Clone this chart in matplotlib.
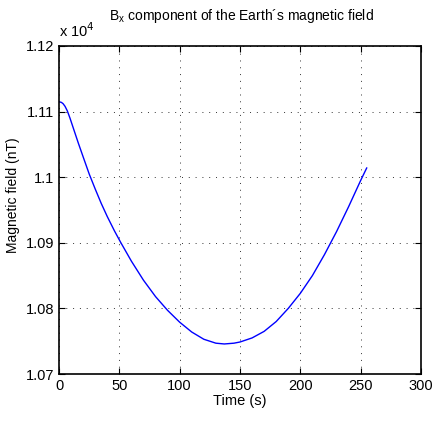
import matplotlib
matplotlib.use("Agg")
import matplotlib.pyplot as plt
from matplotlib.ticker import FuncFormatter

plt.rcParams['font.family'] = ['Liberation Sans', 'DejaVu Sans']

# Time (s) and Bx (nT)
time_s = [0, 2, 3.4, 5, 6.9, 9.1, 12, 16, 20, 25, 30, 35, 40, 46, 51, 60, 70, 80, 90,
          100, 110, 120, 130, 137, 145, 150, 160, 170, 180, 190, 200, 210, 220, 230, 240,
          250, 255]
bx_nT = [11115.0, 11114.0, 11112.0, 11108.0, 11101.0, 11090.0, 11074.0, 11052.0, 11031.0,
         11005.0, 10982.0, 10960.0, 10940.0, 10918.0, 10901.0, 10872.0, 10843.0, 10818.0,
         10797.0, 10779.0, 10764.0, 10753.0, 10747.0, 10745.8, 10747.0, 10748.8, 10755.0,
         10765.0, 10780.0, 10800.0, 10823.0, 10850.0, 10882.0, 10917.0, 10955.0, 10995.0,
         11014.0]

x_ticks = [0, 50, 100, 150, 200, 250, 300]
y_ticks = [10700, 10800, 10900, 11000, 11100, 11200]

fig = plt.figure(figsize=(4.32, 4.23), dpi=100)
ax = fig.add_axes([0.1366, 0.1158, 0.8379, 0.7755])
ax.plot(time_s, bx_nT, color='#0000ff', lw=1.0)

ax.set_xlim(0, 300)
ax.set_ylim(10700, 11200)
ax.set_xticks(x_ticks)
ax.set_yticks(y_ticks)
ax.yaxis.set_major_formatter(FuncFormatter(lambda v, p: '%g' % round(v / 1e4, 4)))
ax.grid(True, color='#333333', linestyle=(0, (1, 6)), linewidth=0.7)
ax.tick_params(direction='in', top=True, right=True, labelsize=10.5, length=4, width=0.8)
for s in ax.spines.values():
    s.set_linewidth(1.2)

ax.set_xlabel('Time (s)', fontsize=10.5, labelpad=1)
ax.set_ylabel('Magnetic field (nT)', fontsize=10)
ax.yaxis.set_label_coords(-0.108, 0.546)
fig.text(0.137, 0.905, r'x 10$^4$', fontsize=10.5, ha='left', va='bottom')
fig.text(0.558, 0.94, r'B$_{\mathregular{x}}$ component of the Earth´s magnetic field',
         fontsize=10, ha='center', va='bottom')

fig.savefig('out.png', dpi=100)
